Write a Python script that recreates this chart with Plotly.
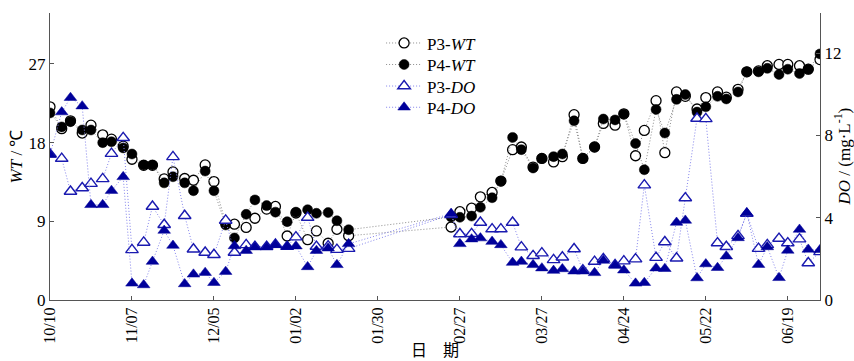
import plotly.graph_objects as go

dates = [
    "2017-10-10", "2017-10-14", "2017-10-17", "2017-10-21", "2017-10-24", "2017-10-28",
    "2017-10-31", "2017-11-04", "2017-11-07", "2017-11-11", "2017-11-14", "2017-11-18",
    "2017-11-21", "2017-11-25", "2017-11-28", "2017-12-02", "2017-12-05", "2017-12-09",
    "2017-12-12", "2017-12-16", "2017-12-19", "2017-12-23", "2017-12-26", "2017-12-30",
    "2018-01-02", "2018-01-06", "2018-01-09", "2018-01-13", "2018-01-16", "2018-01-20",
    "2018-02-24", "2018-02-27", "2018-03-03", "2018-03-06", "2018-03-10", "2018-03-13",
    "2018-03-17", "2018-03-20", "2018-03-24", "2018-03-27", "2018-03-31", "2018-04-03",
    "2018-04-07", "2018-04-10", "2018-04-14", "2018-04-17", "2018-04-21", "2018-04-24",
    "2018-04-28", "2018-05-01", "2018-05-05", "2018-05-08", "2018-05-12", "2018-05-15",
    "2018-05-19", "2018-05-22", "2018-05-26", "2018-05-29", "2018-06-02", "2018-06-05",
    "2018-06-09", "2018-06-12", "2018-06-16", "2018-06-19", "2018-06-23", "2018-06-26",
    "2018-06-30",
]

p3_wt = [
    22.1, 19.6, 20.5, 19.1, 20.0, 18.9, 18.4, 17.6, 16.1, 15.4, 15.4, 13.85, 14.65, 13.9, 13.7,
    15.45, 13.55, 8.8, 8.67, 8.3, 9.35, 10.4, 10.7, 7.32, 9.95, 6.9, 7.9, 6.49, 8.09, 7.35,
    8.35, 10.1, 10.5, 11.8, 12.3, 13.6, 17.2, 17.5, 15.2, 16.2, 15.8, 16.4, 21.2, 16.2, 17.5,
    20.2, 20.0, 21.3, 16.5, 19.4, 22.8, 16.85, 23.8, 23.3, 21.85, 23.15, 23.8, 23.2, 24.1,
    26.1, 26.2, 26.8, 26.95, 26.95, 26.8, 26.4, 27.5,
]
p4_wt = [
    21.4, 19.8, 20.4, 19.45, 19.45, 18.0, 18.1, 17.4, 16.7, 15.45, 15.45, 13.4, 14.1, 13.4, 12.5,
    14.75, 12.5, 8.58, 7.1, 9.8, 11.45, 10.8, 10.05, 8.96, 10.05, 10.33, 9.92, 10.0, 9.07, 8.04,
    9.5, 9.46, 9.6, 10.6, 11.7, 13.6, 18.6, 17.2, 15.1, 16.2, 16.4, 16.7, 20.5, 16.2, 17.5,
    20.7, 20.6, 21.25, 17.9, 14.9, 21.8, 19.1, 22.95, 23.5, 21.5, 22.1, 23.3, 23.0, 23.8,
    26.1, 26.1, 26.5, 25.8, 26.4, 25.9, 26.4, 28.15,
]
p3_do = [
    7.1, 6.88, 5.28, 5.45, 5.66, 5.89, 7.12, 7.89, 2.44, 2.80, 4.55, 3.66, 6.96, 4.10, 2.47,
    2.31, 2.20, 3.87, 2.31, 2.68, 2.6, 2.6, 2.7, 2.6, 3.06, 4.01, 2.6, 2.62, 2.45, 2.5,
    4.15, 3.21, 3.22, 3.77, 3.45, 3.45, 3.77, 2.57, 2.15, 2.28, 1.95, 2.08, 2.48, 1.45, 1.87,
    2.0, 1.71, 1.89, 1.99, 5.59, 2.06, 2.82, 2.03, 4.96, 8.83, 8.81, 2.77, 2.59, 3.12,
    4.2, 2.50, 2.68, 2.99, 2.77, 2.96, 1.80, 2.34,
]
p4_do = [
    7.07, 9.14, 9.84, 9.43, 4.63, 4.63, 5.32, 5.99, 0.81, 0.73, 1.87, 3.38, 2.65, 0.78, 1.25,
    1.33, 0.84, 1.38, 2.63, 2.40, 2.57, 2.57, 2.68, 2.59, 2.62, 1.61, 2.40, 2.52, 1.71, 2.73,
    4.2, 2.73, 2.96, 3.01, 2.84, 2.68, 1.82, 1.87, 1.71, 1.55, 1.43, 1.51, 1.40, 1.40, 1.32,
    1.92, 1.68, 1.45, 0.81, 0.84, 1.55, 1.52, 3.77, 3.87, 1.07, 1.75, 1.57, 2.13, 3.02,
    4.23, 1.72, 2.58, 1.08, 2.41, 3.43, 2.46, 2.44,
]

wt_ticks = [0, 9, 18, 27]
do_ticks = [0, 4, 8, 12]

SERIF = "Liberation Serif"
NAVY = "#00009a"
OPEN_BLUE = "#1a1ab0"
WT_LINE = "#8c8c8c"
DO_LINE = "#8484ec"
DOTS = "1px,2px"

fig = go.Figure()
fig.add_trace(go.Scatter(
    x=dates, y=p3_wt, name="P3-<i>WT</i>", mode="lines+markers", legend="legend",
    line=dict(color=WT_LINE, width=1, dash=DOTS),
    marker=dict(symbol="circle", size=10, color="white", line=dict(color="black", width=1.3)),
))
fig.add_trace(go.Scatter(
    x=dates, y=p4_wt, name="P4-<i>WT</i>", mode="lines+markers", legend="legend2",
    line=dict(color=WT_LINE, width=1, dash=DOTS),
    marker=dict(symbol="circle", size=10, color="black", line=dict(color="black", width=0.5)),
))
fig.add_trace(go.Scatter(
    x=dates, y=p3_do, name="P3-<i>DO</i>", mode="lines+markers", yaxis="y2", legend="legend3",
    line=dict(color=DO_LINE, width=1, dash=DOTS),
    marker=dict(symbol="triangle-up", size=11, color="white", line=dict(color=OPEN_BLUE, width=1.4)),
))
fig.add_trace(go.Scatter(
    x=dates, y=p4_do, name="P4-<i>DO</i>", mode="lines+markers", yaxis="y2", legend="legend4",
    line=dict(color=DO_LINE, width=1, dash=DOTS),
    marker=dict(symbol="triangle-up", size=11, color=NAVY, line=dict(color=NAVY, width=0.5)),
))

axis_common = dict(
    showgrid=False, zeroline=False, showline=True, linecolor="#555", linewidth=1,
    ticks="inside", ticklen=4, tickcolor="#555", automargin=False,
)


def legend_at(yc):
    return dict(
        x=0.43, y=yc, xanchor="left", yanchor="middle",
        bgcolor="rgba(0,0,0,0)", font=dict(family=SERIF, size=17),
        itemwidth=36, itemsizing="trace",
    )


fig.update_layout(
    width=854, height=361,
    margin=dict(l=50, r=34, t=13, b=61, autoexpand=False),
    paper_bgcolor="white", plot_bgcolor="white",
    font=dict(family=SERIF, size=17, color="black"),
    showlegend=True,
    legend=legend_at(0.894),
    legend2=legend_at(0.819),
    legend3=legend_at(0.744),
    legend4=legend_at(0.670),
    xaxis=dict(
        **axis_common,
        type="date",
        range=["2017-10-10", "2018-06-30"],
        tick0="2017-10-10", dtick=28 * 86400000,
        tickformat="%m/%d", tickangle=-90,
        tickfont=dict(family=SERIF, size=16),
        title=dict(text="日　期", font=dict(family="Noto Sans CJK SC", size=16), standoff=4),
    ),
    yaxis=dict(
        **axis_common,
        range=[0, 32.83], tickvals=wt_ticks,
        tickfont=dict(family=SERIF, size=17),
        title=dict(text="<i>WT</i> / ℃", font=dict(family=SERIF, size=17), standoff=1),
    ),
    yaxis2=dict(
        **axis_common,
        overlaying="y", side="right",
        range=[0, 13.96], tickvals=do_ticks,
        tickfont=dict(family=SERIF, size=17),
    ),
    annotations=[dict(
        text="<i>DO</i> / (mg·L<sup>-1</sup>)",
        xref="paper", yref="paper", x=1, y=0.5, xshift=22,
        xanchor="center", yanchor="middle", textangle=-90, showarrow=False,
        font=dict(family=SERIF, size=17, color="black"),
    )],
)

fig.write_html("out.html")
